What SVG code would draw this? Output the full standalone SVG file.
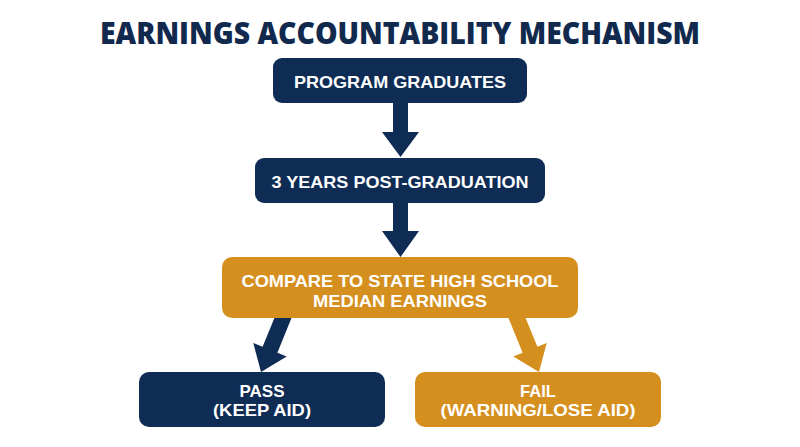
<svg xmlns="http://www.w3.org/2000/svg" width="800" height="447" viewBox="0 0 800 447">
  <style>
    .navy { fill: #0e2c54; }
    .orange { fill: #d58f1e; }
    .lbl { font-family: "Liberation Sans", Arial, sans-serif; font-weight: 700; font-size: 16.5px; fill: #ffffff; text-anchor: middle; }
    .title { font-family: "Open Sans", "Liberation Sans", sans-serif; font-weight: 800; font-size: 30px; fill: #10294d; text-anchor: middle; }
  </style>
  <rect x="0" y="0" width="800" height="447" fill="#ffffff"/>
  <text class="title" x="400" y="44" textLength="600" lengthAdjust="spacingAndGlyphs">EARNINGS ACCOUNTABILITY MECHANISM</text>

  <g id="connectors">
    <polygon class="navy" points="393,100 408,100 408,132 419,132 400.5,157 382,132 393,132"/>
    <polygon class="navy" points="393,200 408,200 408,231 419,231 400.5,257 382,231 393,231"/>
    <polygon class="navy" points="278.1,309 262.6,346.8 253.3,343 261,372 286.7,356.6 277.4,352.8 292.7,315"/>
    <polygon class="orange" points="521.9,309 537.4,346.8 546.7,343 539,372 513.3,356.6 522.6,352.8 507.3,315"/>
  </g>

  <g id="node-graduates">
    <rect class="navy" x="273" y="58" width="254" height="45" rx="9"/>
    <text class="lbl" x="400" y="88" textLength="212" lengthAdjust="spacingAndGlyphs">PROGRAM GRADUATES</text>
  </g>
  <g id="node-post">
    <rect class="navy" x="255" y="158" width="290" height="45" rx="9"/>
    <text class="lbl" x="400" y="188" textLength="257" lengthAdjust="spacingAndGlyphs">3 YEARS POST-GRADUATION</text>
  </g>
  <g id="node-compare">
    <rect class="orange" x="222" y="257" width="356" height="61" rx="10"/>
    <text class="lbl" x="400" y="287" textLength="317" lengthAdjust="spacingAndGlyphs">COMPARE TO STATE HIGH SCHOOL</text>
    <text class="lbl" x="400" y="306.5" textLength="174" lengthAdjust="spacingAndGlyphs">MEDIAN EARNINGS</text>
  </g>
  <g id="node-pass">
    <rect class="navy" x="139" y="372" width="246" height="55" rx="10"/>
    <text class="lbl" x="262" y="396.5" textLength="45" lengthAdjust="spacingAndGlyphs">PASS</text>
    <text class="lbl" x="262" y="416" textLength="98" lengthAdjust="spacingAndGlyphs">(KEEP AID)</text>
  </g>
  <g id="node-fail">
    <rect class="orange" x="415" y="372" width="246" height="55" rx="10"/>
    <text class="lbl" x="538" y="396.5" textLength="36" lengthAdjust="spacingAndGlyphs">FAIL</text>
    <text class="lbl" x="538" y="416" textLength="195" lengthAdjust="spacingAndGlyphs">(WARNING/LOSE AID)</text>
  </g>
</svg>
